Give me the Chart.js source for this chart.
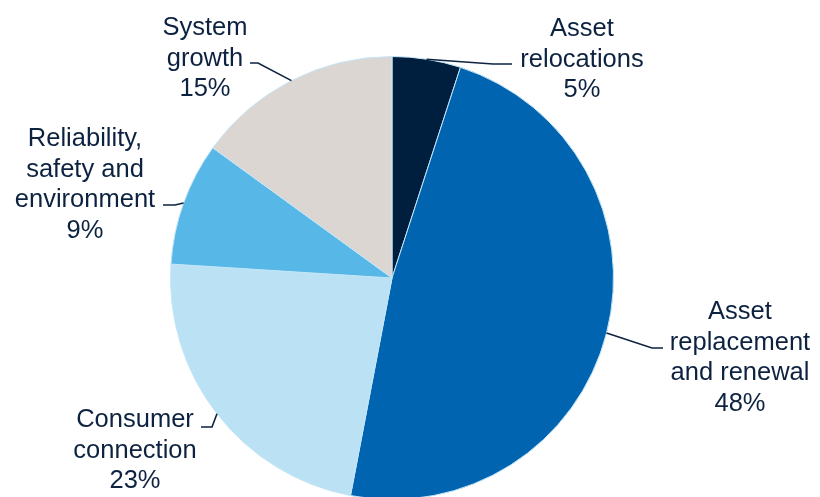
<!DOCTYPE html>
<html>
<head>
<meta charset="utf-8">
<script src="https://cdn.jsdelivr.net/npm/chart.js@4.4.1/dist/chart.umd.min.js"></script>
<style>
  html, body { margin:0; padding:0; background:#fff; overflow:hidden; }
  #wrap { width:820px; height:497px; overflow:hidden; }
</style>
</head>
<body>
<div id="wrap"><canvas id="capexPie" width="820" height="520"></canvas></div>
<script>
// Capex split by category, clockwise from 12 o'clock
const categories = [
  ['Asset', 'relocations'],
  ['Asset', 'replacement', 'and renewal'],
  ['Consumer', 'connection'],
  ['Reliability,', 'safety and', 'environment'],
  ['System', 'growth']
];
const shares = [5, 48, 23, 9, 15];
const sliceColors = ['#001f3f', '#0064b1', '#bae1f4', '#57b7e7', '#dcd6d3'];

// label blocks: text centre x, first baseline y, leader elbow and end points
const labelLayout = [
  { x:582, y:36,  elbow:[493,64],  end:[512,64]  },
  { x:740, y:319, elbow:[652,348], end:[663,348] },
  { x:135, y:427, elbow:[212,427], end:[201,427] },
  { x:85,  y:146, elbow:[175,205], end:[163,205] },
  { x:205, y:35,  elbow:[258,63],  end:[250,63]  }
];
const TEXT_COLOR = '#0d2240';
const LINE_H = 30.7;

const sliceLabels = {
  id: 'sliceLabels',
  afterDatasetsDraw(chart) {
    const ctx = chart.ctx;
    const arcs = chart.getDatasetMeta(0).data;
    ctx.save();
    ctx.font = '25.5px "Liberation Sans", Arial, sans-serif';
    ctx.fillStyle = TEXT_COLOR;
    ctx.strokeStyle = TEXT_COLOR;
    ctx.lineWidth = 1.6;
    ctx.textAlign = 'center';
    ctx.textBaseline = 'alphabetic';
    arcs.forEach((arc, i) => {
      const p = arc.getProps(['x', 'y', 'startAngle', 'endAngle', 'outerRadius'], true);
      const mid = (p.startAngle + p.endAngle) / 2;
      const sx = p.x + Math.cos(mid) * p.outerRadius;
      const sy = p.y + Math.sin(mid) * p.outerRadius;
      const L = labelLayout[i];
      ctx.beginPath();
      ctx.moveTo(sx, sy);
      ctx.lineTo(L.elbow[0], L.elbow[1]);
      ctx.lineTo(L.end[0], L.end[1]);
      ctx.stroke();
      const lines = categories[i].concat([shares[i] + '%']);
      lines.forEach((t, k) => ctx.fillText(t, L.x, L.y + k * LINE_H));
    });
    ctx.restore();
  }
};

new Chart(document.getElementById('capexPie'), {
  type: 'pie',
  data: {
    labels: categories.map(c => c.join(' ')),
    datasets: [{
      data: shares,
      backgroundColor: sliceColors,
      borderColor: '#c4e6f7',
      borderWidth: 1
    }]
  },
  options: {
    responsive: false,
    animation: false,
    layout: { padding: { left:170, right:206, top:56, bottom:20 } },
    plugins: { legend: { display:false }, tooltip: { enabled:false } }
  },
  plugins: [sliceLabels]
});
</script>
</body>
</html>
